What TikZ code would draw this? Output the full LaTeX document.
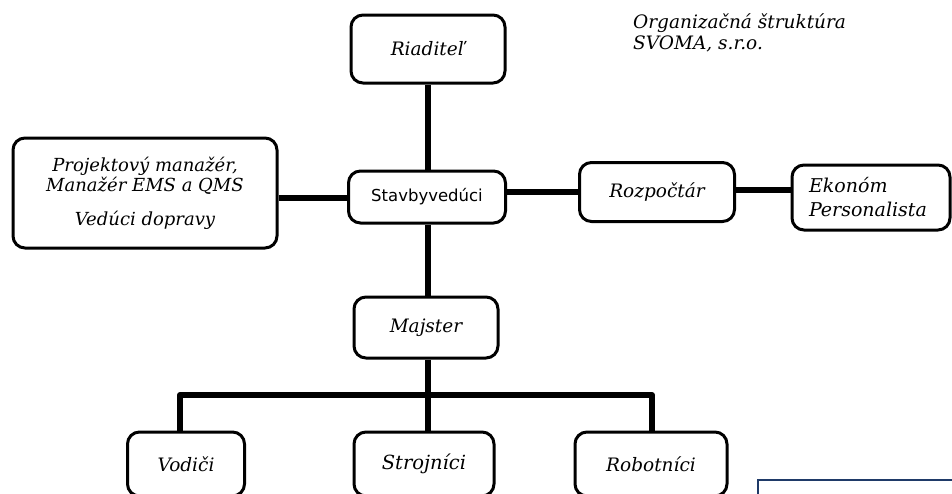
\documentclass[tikz,border=0pt]{standalone}
\usepackage{fontspec}
\setmainfont{DejaVu Serif}
\newfontfamily\sansf{DejaVu Sans}
\definecolor{notebl}{HTML}{1F3A68}
\begin{document}
\begin{tikzpicture}[x=1pt,y=-1pt,
  box/.style={draw, line width=3pt, rounded corners=12pt, fill=white,
    font=\itshape\fontsize{18.5}{21}\selectfont, inner sep=0pt, align=center},
  conn/.style={line width=6pt}]
\useasboundingbox (0,0) rectangle (952,493);
\clip (0,0) rectangle (952,493);
% title
\node[anchor=west, align=left, inner sep=0pt, font=\itshape\fontsize{18.5}{21}\selectfont] (title) at (633,33) {Organizačná štruktúra\\SVOMA, s.r.o.};
% boxes
\node[box, minimum width=154pt, minimum height=68pt] (riad) at (428,49) {Riaditeľ};
\node[box, minimum width=157pt, minimum height=52pt, font=\sansf\fontsize{16.5}{18}\selectfont] (stav) at (427,197) {Stavbyvedúci};
\node[box, minimum width=264pt, minimum height=110pt, font=\itshape\fontsize{18}{20}\selectfont] (left) at (145,193) {Projektový manažér,\\Manažér EMS a QMS\\[14pt]Vedúci dopravy};
\node[box, minimum width=155pt, minimum height=59pt] (rozp) at (657,192) {Rozpočtár};
\node[box, minimum width=158pt, minimum height=65pt, text width=124pt, inner xsep=17pt, align=left, font=\itshape\fontsize{19}{21}\selectfont] (ekon) at (871,197.5) {Ekonóm\\[3pt]Personalista};
\node[box, minimum width=144pt, minimum height=61pt] (maj) at (426,327.5) {Majster};
\node[box, minimum width=117pt, minimum height=64pt] (vod) at (186,464) {Vodiči};
\node[box, minimum width=140pt, minimum height=64pt, font=\itshape\fontsize{19.5}{21}\selectfont] (stroj) at (424,464) {Strojníci};
\node[box, minimum width=152pt, minimum height=64pt] (robot) at (651,464) {Robotníci};
% partially visible note box
\node[draw=notebl, line width=2pt, fill=white, anchor=north west, minimum width=220pt, minimum height=40pt] (note) at (757,479) {};
% connectors
\coordinate (barL) at (180,395);
\coordinate (barR) at (652,395);
\coordinate (barM) at (428,395);
\coordinate (vx) at (428,0);
\draw[conn] (riad.south -| vx) -- (stav.north -| vx);
\draw[conn] (left.east |- 0,198) -- (stav.west |- 0,198);
\draw[conn] (stav.east |- 0,192) -- (rozp.west |- 0,192);
\draw[conn] (rozp.east |- 0,190) -- (ekon.west |- 0,190);
\draw[conn] (stav.south -| barM) -- (maj.north -| barM);
\draw[conn] (maj.south -| barM) -- (barM);
\draw[conn, line cap=round] (barL) -- (barR);
\draw[conn] (barL) -- (vod.north -| barL);
\draw[conn] (barM) -- (stroj.north -| barM);
\draw[conn] (barR) -- (robot.north -| barR);
\end{tikzpicture}
\end{document}
